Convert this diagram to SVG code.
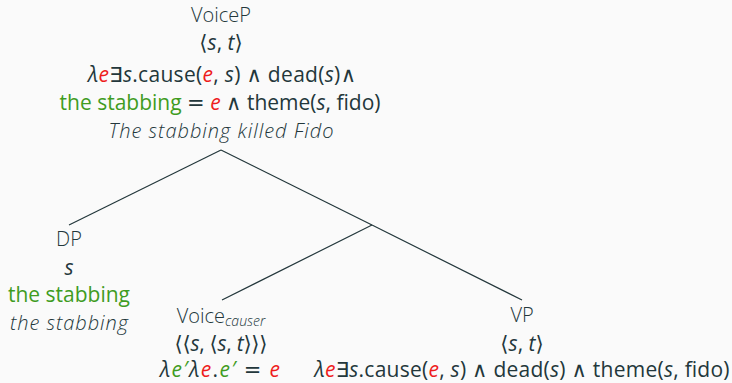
<svg xmlns="http://www.w3.org/2000/svg" width="732" height="383" viewBox="0 0 732 383">
<style>
.t{font-family:"Open Sans","DejaVu Sans",sans-serif;font-size:21px;fill:#23373b;text-anchor:middle;font-weight:400}
.l{font-weight:300;font-size:20px}
.i{font-style:italic}
.g{fill:#3f9c1f}
.r{fill:#ee1c1c}
.op{font-family:"DejaVu Sans",sans-serif;font-weight:400;font-style:normal}
.sub{font-size:14px;font-style:italic;font-weight:300}
.e{stroke:#23373b;stroke-width:1.2;fill:none}
</style>
<rect width="732" height="383" fill="#fafafa"/>
<g id="connectors">
<line class="e" x1="221" y1="150" x2="69" y2="225"/>
<line class="e" x1="221" y1="150" x2="372" y2="225"/>
<line class="e" x1="372" y1="225" x2="522" y2="300"/>
<line class="e" x1="372" y1="225" x2="222" y2="300"/>
</g>
<g id="voicep">
<text class="t l" x="221" y="21.5">VoiceP</text>
<text class="t" x="221" y="50">⟨<tspan class="i">s</tspan>, <tspan class="i">t</tspan>⟩</text>
<text class="t" x="222" y="82" textLength="268" lengthAdjust="spacing"><tspan class="i">λ</tspan><tspan class="i r">e</tspan>∃<tspan class="i">s</tspan>.cause(<tspan class="i r">e</tspan>, <tspan class="i">s</tspan>) <tspan class="op">∧</tspan> dead(<tspan class="i">s</tspan>)<tspan class="op">∧</tspan></text>
<text class="t" x="220" y="110" textLength="321" lengthAdjust="spacing"><tspan class="g">the stabbing</tspan> <tspan class="op">=</tspan> <tspan class="i r">e</tspan> <tspan class="op">∧</tspan> theme(<tspan class="i">s</tspan>, fido)</text>
<text class="t l i" x="221" y="138" textLength="225" lengthAdjust="spacing">The stabbing killed Fido</text>
</g>
<g id="dp">
<text class="t l" x="69" y="246">DP</text>
<text class="t i" x="69" y="275">s</text>
<text class="t g" x="69" y="302" textLength="122" lengthAdjust="spacing">the stabbing</text>
<text class="t l i" x="69" y="330" textLength="118" lengthAdjust="spacing">the stabbing</text>
</g>
<g id="voice">
<text class="t l" x="221" y="323">Voice<tspan class="sub" dy="3">causer</tspan></text>
<text class="t" x="221" y="351" textLength="93" lengthAdjust="spacing">⟨⟨<tspan class="i">s</tspan>, ⟨<tspan class="i">s</tspan>, <tspan class="i">t</tspan>⟩⟩⟩</text>
<text class="t" x="220" y="377" textLength="120" lengthAdjust="spacing"><tspan class="i">λ</tspan><tspan class="i g">e′</tspan><tspan class="i">λ</tspan><tspan class="i r">e</tspan>.<tspan class="i g">e′</tspan> <tspan class="op">=</tspan> <tspan class="i r">e</tspan></text>
</g>
<g id="vp">
<text class="t l" x="522" y="322">VP</text>
<text class="t" x="522" y="351">⟨<tspan class="i">s</tspan>, <tspan class="i">t</tspan>⟩</text>
<text class="t" x="522" y="377" textLength="415" lengthAdjust="spacing"><tspan class="i">λ</tspan><tspan class="i r">e</tspan>∃<tspan class="i">s</tspan>.cause(<tspan class="i r">e</tspan>, <tspan class="i">s</tspan>) <tspan class="op">∧</tspan> dead(<tspan class="i">s</tspan>) <tspan class="op">∧</tspan> theme(<tspan class="i">s</tspan>, fido)</text>
</g>
</svg>
